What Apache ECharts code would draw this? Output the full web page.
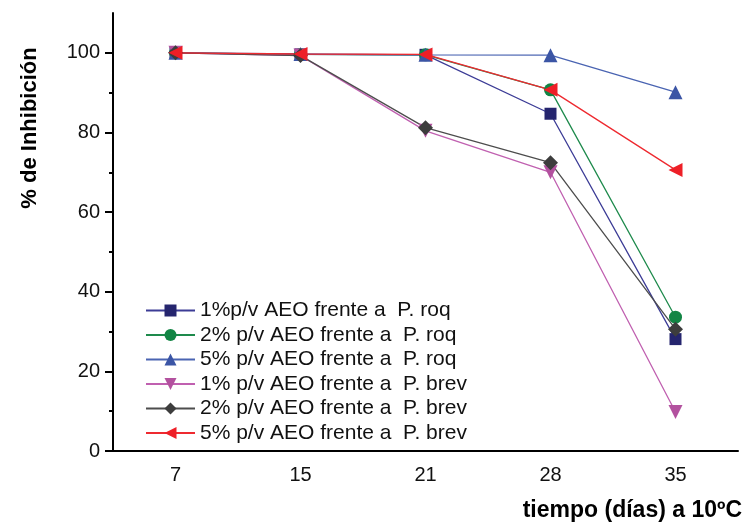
<!DOCTYPE html>
<html>
<head>
<meta charset="utf-8">
<script src="https://cdn.jsdelivr.net/npm/echarts@6/dist/echarts.min.js"></script>
<style>
  html, body { margin: 0; padding: 0; background: #fff; }
  #app { width: 746px; height: 530px; }
</style>
</head>
<body>
<div id="app"></div>
<script>
  // días de almacenamiento (eje x)
  const dias = ['7', '15', '21', '28', '35'];
  // % de inhibición por tratamiento
  const roq1 = [100, 99.6, 99.5, 84.7, 28.1];
  const roq2 = [100, 99.6, 99.5, 90.7, 33.6];
  const roq5 = [100, 99.7, 99.5, 99.4, 90.1];
  const brev1 = [100, 99.3, 80.4, 70.0, 9.8];
  const brev2 = [100, 99.3, 81.2, 72.4, 30.6];
  const brev5 = [100, 99.7, 99.6, 90.7, 70.6];
  // marcas del eje y
  const yTicks = [0, 20, 40, 60, 80, 100];
  const yMinorTicks = [10, 30, 50, 70, 90];

  const font = 'Liberation Sans, Arial, Helvetica, sans-serif';

  function mkSeries(name, data, color, lineColor, symbol, rotate, size) {
    return {
      name: name,
      type: 'line',
      data: data,
      symbol: symbol,
      symbolSize: size,
      symbolRotate: rotate,
      showAllSymbol: true,
      color: color,
      itemStyle: { color: color },
      lineStyle: { color: lineColor, width: 1.3 },
      emphasis: { disabled: true }
    };
  }

  const myChart = echarts.init(document.getElementById('app'), null, { renderer: 'canvas' });
  const option = {
    animation: false,
    backgroundColor: '#fff',
    grid: { left: 113, right: 8, top: 13, bottom: 79 },
    legend: {
      orient: 'vertical',
      left: 140,
      top: 295,
      itemWidth: 49,
      itemHeight: 15,
      itemGap: 3.5,
      textStyle: { fontFamily: font, fontSize: 21, color: '#111' },
      data: [
        '1%p/v AEO frente a  P. roq',
        '2% p/v AEO frente a  P. roq',
        '5% p/v AEO frente a  P. roq',
        '1% p/v AEO frente a  P. brev',
        '2% p/v AEO frente a  P. brev',
        '5% p/v AEO frente a  P. brev'
      ]
    },
    xAxis: [
      {
        type: 'category',
        data: dias,
        boundaryGap: true,
        axisLine: { lineStyle: { color: '#000', width: 2 } },
        axisTick: { alignWithLabel: true, length: 9, lineStyle: { color: '#000', width: 2 } },
        axisLabel: { fontFamily: font, fontSize: 20, color: '#111', margin: 14 },
        splitLine: { show: false }
      },
      {
        type: 'category',
        data: dias,
        position: 'bottom',
        boundaryGap: true,
        axisLine: { show: false },
        axisTick: { alignWithLabel: false, length: 4, lineStyle: { color: '#000', width: 2 } },
        axisLabel: { show: false },
        splitLine: { show: false }
      }
    ],
    yAxis: [
      {
        type: 'value',
        min: 0,
        max: 110,
        axisLine: { show: true, lineStyle: { color: '#000', width: 2 } },
        axisTick: { show: true, customValues: yTicks, length: 8, lineStyle: { color: '#000', width: 2 } },
        axisLabel: { customValues: yTicks, fontFamily: font, fontSize: 20, color: '#111', margin: 13 },
        splitLine: { show: false }
      },
      {
        type: 'value',
        min: 0,
        max: 110,
        position: 'left',
        axisLine: { show: false },
        axisTick: { show: true, customValues: yMinorTicks, length: 4, lineStyle: { color: '#000', width: 2 } },
        axisLabel: { show: false },
        splitLine: { show: false }
      }
    ],
    graphic: [
      {
        type: 'text',
        x: 30,
        y: 128,
        rotation: Math.PI / 2,
        style: {
          text: '% de Inhibición',
          font: 'bold 22px ' + font,
          fill: '#000',
          align: 'center',
          verticalAlign: 'middle'
        }
      },
      {
        type: 'text',
        right: 4,
        top: 499,
        style: {
          text: 'tiempo (días) a 10ºC',
          font: 'bold 23px ' + font,
          fill: '#000'
        }
      }
    ],
    series: [
      mkSeries('1%p/v AEO frente a  P. roq', roq1, '#25256e', '#3c3c96', 'rect', 0, 12),
      mkSeries('2% p/v AEO frente a  P. roq', roq2, '#128544', '#1e8a4c', 'circle', 0, 13),
      mkSeries('5% p/v AEO frente a  P. roq', roq5, '#3b55a5', '#4a64b2', 'triangle', 0, 14),
      mkSeries('1% p/v AEO frente a  P. brev', brev1, '#b3519f', '#c060b0', 'triangle', 180, 14),
      mkSeries('2% p/v AEO frente a  P. brev', brev2, '#3d3d3d', '#4d4d4d', 'diamond', 0, 15),
      mkSeries('5% p/v AEO frente a  P. brev', brev5, '#ee1f27', '#ee2a30', 'triangle', 90, 14)
    ]
  };
  myChart.setOption(option);
</script>
</body>
</html>
